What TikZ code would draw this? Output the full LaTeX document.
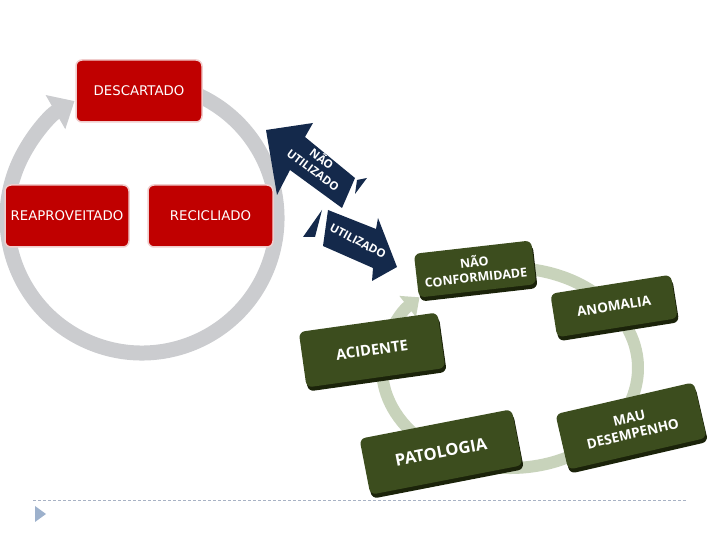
\documentclass[tikz,border=0pt]{standalone}
\usepackage{fontspec}
\setmainfont{DejaVu Sans}
\newfontfamily\greenfont{Open Sans}
\usetikzlibrary{arrows.meta,shadows}

\definecolor{cyclered}{RGB}{192,0,0}
\definecolor{cycleedge}{RGB}{240,205,205}
\definecolor{ringgrey}{RGB}{203,204,207}
\definecolor{navyarrow}{RGB}{20,41,75}
\definecolor{olivebox}{RGB}{60,77,30}
\definecolor{oliveshade}{RGB}{27,35,10}
\definecolor{ringsage}{RGB}{200,211,187}
\definecolor{slidegrey}{RGB}{168,178,196}
\definecolor{bulletblue}{RGB}{157,177,204}

\begin{document}
\begin{tikzpicture}[x=1pt, y=1pt,
    redbox/.style={rectangle, rounded corners=6pt, fill=cyclered, draw=cycleedge, line width=1.5pt, text=white, minimum width=124pt, minimum height=62pt, font=\fontsize{13.3}{15}\selectfont},
    greenbox/.style={rectangle, rounded corners=6pt, fill=olivebox, text=white, align=center, drop shadow={shadow xshift=1.5pt, shadow yshift=-4pt, fill=oliveshade, opacity=1}},
    arrowtext/.style={text=white, align=center, font=\greenfont\bfseries\fontsize{11.5}{14}\selectfont}
]
\useasboundingbox (0,0) rectangle (720,540);

% slide rule and bullet
\draw[slidegrey, dash pattern=on 3pt off 2pt, line width=0.8pt] (33,40) -- (686,40);
\fill[bulletblue] (35,34) -- (46,26) -- (35,18) -- cycle;

% left cycle
\coordinate (redhub) at (142,322);
\draw[ringgrey, line width=15pt, -{Triangle[width=38pt,length=22pt]}] ([shift={(65:135)}]redhub) arc[start angle=65, end angle=-240, radius=135];

\node[redbox, minimum width=126pt] (discarded) at (139,449) {DESCARTADO};
\node[redbox] (reused) at (67,324) {REAPROVEITADO};
\node[redbox, minimum width=125pt] (recycled) at (210.5,324) {RECICLIADO};

% blue arrows
\fill[navyarrow] (266,410) -- (313,417) -- (305,403) -- (355,362) -- (342,332) -- (290,370) -- (277,345) -- cycle;
\fill[navyarrow] (357,360) -- (367,362) -- (355,346) -- cycle;
\node[arrowtext, rotate=-37] (notusedlbl) at (318,376) {NÃO\\UTILIZADO};

\fill[navyarrow] (328,330) -- (376,311) -- (378,322) -- (397,273) -- (372,259) -- (373,272) -- (323,294) -- cycle;
\fill[navyarrow] (322,330) -- (303,303) -- (315,303) -- cycle;
\node[arrowtext, rotate=-28] (usedlbl) at (358,299) {UTILIZADO};

% right cycle
\coordinate (greenhub) at (510,172);
\draw[ringsage, line width=12pt, -{Triangle[width=26pt,length=15pt]}] ([shift={(80:128 and 100)}]greenhub) arc[start angle=80, end angle=-225, x radius=128, y radius=100];

\node[greenbox, minimum width=118pt, minimum height=44pt, rotate=6.5, font=\greenfont\bfseries\fontsize{12.5}{15}\selectfont] (nonconf) at (475,271) {NÃO\\CONFORMIDADE};
\node[greenbox, minimum width=122pt, minimum height=44pt, rotate=9, font=\greenfont\bfseries\fontsize{13.5}{15}\selectfont] (anomaly) at (614,234) {ANOMALIA};
\node[greenbox, minimum width=140pt, minimum height=56pt, rotate=8, font=\greenfont\bfseries\fontsize{14.8}{16}\selectfont] (accident) at (372,190) {ACIDENTE};
\node[greenbox, minimum width=142pt, minimum height=57pt, rotate=13, font=\greenfont\bfseries\fontsize{13.6}{16}\selectfont] (badperf) at (631,114) {MAU\\DESEMPENHO};
\node[greenbox, minimum width=155pt, minimum height=57pt, rotate=11, font=\greenfont\bfseries\fontsize{16.5}{18}\selectfont] (pathology) at (441,88) {PATOLOGIA};
\end{tikzpicture}
\end{document}
